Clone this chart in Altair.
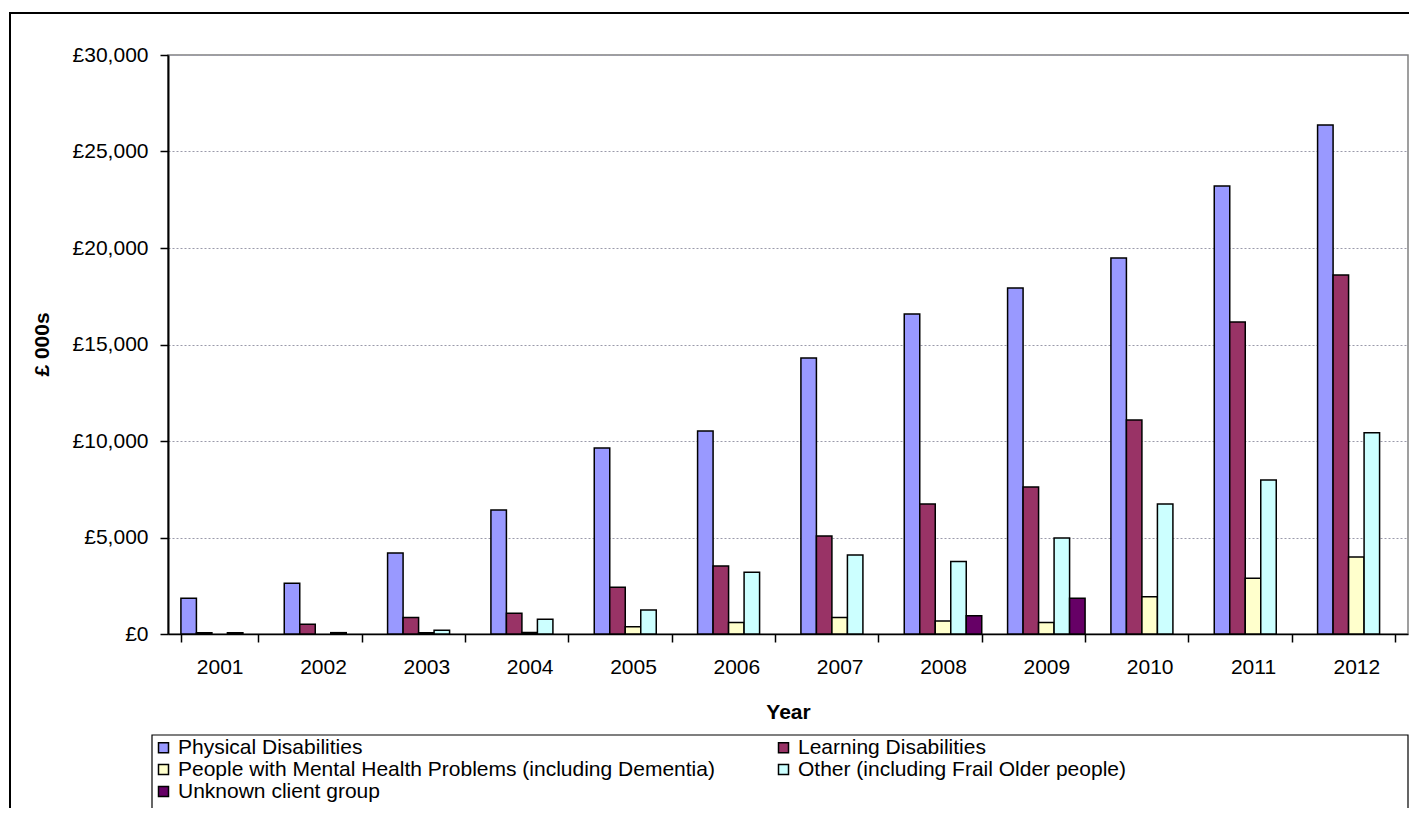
import altair as alt
import pandas as pd

years = ["2001", "2002", "2003", "2004", "2005", "2006", "2007", "2008", "2009", "2010", "2011", "2012"]
groups = [
    "Physical Disabilities",
    "Learning Disabilities",
    "People with Mental Health Problems (including Dementia)",
    "Other (including Frail Older people)",
    "Unknown client group",
]
physical = [1850, 2630, 4200, 6420, 9640, 10520, 14300, 16580, 17930, 19480, 23210, 26370]
learning = [70, 500, 850, 1070, 2420, 3520, 5080, 6730, 7620, 11090, 16160, 18600]
mental = [0, 0, 60, 80, 380, 590, 860, 670, 590, 1930, 2890, 3990]
other = [70, 70, 190, 760, 1240, 3200, 4090, 3760, 4970, 6730, 7980, 10430]
unknown = [0, 0, 0, 0, 0, 0, 0, 950, 1850, 0, 0, 0]
colors = ["#9999FF", "#993366", "#FFFFCC", "#CCFFFF", "#660066"]
y_ticks = [0, 5000, 10000, 15000, 20000, 25000, 30000]

series = [physical, learning, mental, other, unknown]
rows = []
for g, vals in zip(groups, series):
    for yr, v in zip(years, vals):
        if v > 0:
            rows.append({"year": yr, "group": g, "value": v})
df = pd.DataFrame(rows)

FONT = "Liberation Sans"
FS = 21

bars = alt.Chart(df).mark_bar(stroke="black", strokeWidth=1.5).encode(
    x=alt.X(
        "year:N",
        sort=years,
        scale=alt.Scale(domain=years, paddingInner=0.25, paddingOuter=0.125),
        axis=alt.Axis(
            title="Year",
            labelAngle=0,
            tickBand="extent",
            tickSize=8,
            tickColor="black",
            tickWidth=1.5,
            domainColor="black",
            domainWidth=1.5,
            labelPadding=14,
            titlePadding=24,
            grid=False,
            labelFont=FONT,
            labelFontSize=FS,
            labelColor="black",
            titleFont=FONT,
            titleFontSize=FS,
            titleFontWeight="bold",
            titleColor="black",
        ),
    ),
    xOffset=alt.XOffset(
        "group:N",
        sort=groups,
        scale=alt.Scale(domain=groups, paddingInner=0, paddingOuter=0),
    ),
    y=alt.Y(
        "value:Q",
        scale=alt.Scale(domain=[0, 30000], nice=False),
        axis=alt.Axis(
            title="£ 000s",
            values=y_ticks,
            labelExpr="'£' + format(datum.value, ',')",
            tickSize=8,
            tickColor="black",
            tickWidth=1.5,
            domainColor="black",
            domainWidth=2,
            labelPadding=12,
            titleX=-126,
            titleY=289,
            titleAlign="center",
            titleBaseline="middle",
            grid=True,
            gridColor="#9a9aaa",
            gridDash=[2, 2],
            gridWidth=1,
            labelFont=FONT,
            labelFontSize=FS,
            labelColor="black",
            titleFont=FONT,
            titleFontSize=FS,
            titleFontWeight="bold",
            titleColor="black",
        ),
    ),
    color=alt.Color(
        "group:N",
        scale=alt.Scale(domain=groups, range=colors),
        legend=alt.Legend(
            title=None,
            orient="none",
            direction="horizontal",
            legendX=-15,
            legendY=682,
            columns=2,
            columnPadding=58,
            rowPadding=0,
            padding=0,
            symbolType="square",
            symbolSize=100,
            symbolStrokeColor="black",
            symbolStrokeWidth=1.5,
            symbolOpacity=1,
            labelFont=FONT,
            labelFontSize=FS,
            labelColor="black",
            labelOffset=4,
            labelLimit=800,
        ),
    ),
)

deco = pd.DataFrame({"k": [0]})
outer_border = alt.Chart(deco).mark_rect(filled=False, stroke="black", strokeWidth=2).encode(
    x=alt.value(-158), x2=alt.value(1500), y=alt.value(-42), y2=alt.value(900)
)
legend_box = alt.Chart(deco).mark_rect(filled=False, stroke="black", strokeWidth=1.2).encode(
    x=alt.value(-16), x2=alt.value(1240), y=alt.value(680), y2=alt.value(900)
)

chart = alt.layer(outer_border, legend_box, bars).properties(
    width=1240,
    height=579,
    autosize=alt.AutoSizeParams(type="none"),
    padding={"left": 160, "top": 47, "right": 1, "bottom": 174},
    background="white",
).configure_view(
    stroke="#808080", strokeWidth=1.5
)

chart.save("out.html", embed_options={"renderer": "svg", "actions": False})
